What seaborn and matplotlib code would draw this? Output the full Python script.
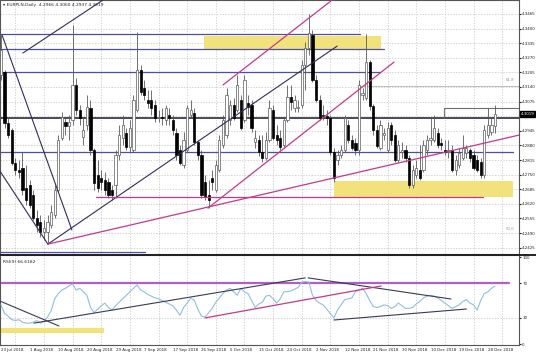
import numpy as np
import pandas as pd
import matplotlib
matplotlib.use("Agg")
import matplotlib.pyplot as plt
import matplotlib.transforms as mtransforms
from matplotlib.lines import Line2D
import seaborn as sns

# EURPLN daily candles (bar index 0 = 23 Jul 2018)
opens = [4.3193, 4.3207, 4.2980, 4.2949, 4.2802, 4.2771, 4.2779, 4.2691, 4.2704, 4.2659,
         4.2557, 4.2539, 4.2495, 4.2495, 4.2526, 4.2570, 4.2682, 4.2913, 4.2984, 4.2966,
         4.2993, 4.3149, 4.3038, 4.2917, 4.2971, 4.3046, 4.2860, 4.2748, 4.2735, 4.2726,
         4.2717, 4.2682, 4.2704, 4.2837, 4.2913, 4.2935, 4.2873, 4.2860, 4.3038, 4.3216,
         4.3135, 4.3082, 4.3082, 4.3060, 4.3002, 4.3006, 4.2993, 4.3015, 4.2993, 4.2935,
         4.2860, 4.2793, 4.2860, 4.3015, 4.3024, 4.2895, 4.2837, 4.2717, 4.2659, 4.2735,
         4.2682, 4.2771, 4.2882, 4.2926, 4.2993, 4.3060, 4.3038, 4.3082, 4.2993, 4.3069,
         4.3060, 4.2895, 4.2904, 4.2851, 4.2824, 4.2904, 4.3038, 4.2926, 4.2913, 4.2882,
         4.2993, 4.3095, 4.3046, 4.3046, 4.3060, 4.3238, 4.3313, 4.3371, 4.3171, 4.3082,
         4.3015, 4.3011, 4.3002, 4.2851, 4.2815, 4.2837, 4.2860, 4.2971, 4.2904, 4.2891,
         4.2860, 4.3104, 4.3091, 4.3251, 4.3055, 4.2949, 4.2869, 4.2926, 4.2860, 4.2971,
         4.2926, 4.2815, 4.2851, 4.2860, 4.2824, 4.2704, 4.2748, 4.2771, 4.2771, 4.2860,
         4.2904, 4.2904, 4.2935, 4.2891, 4.2860, 4.2851, 4.2860, 4.2771, 4.2793, 4.2824,
         4.2846, 4.2860, 4.2837, 4.2815, 4.2806, 4.2748, 4.2926, 4.2940, 4.2966]
highs = [4.3371, 4.3216, 4.3002, 4.2957, 4.2824, 4.2815, 4.2851, 4.2793, 4.2726, 4.2682,
         4.2593, 4.2570, 4.2548, 4.2570, 4.2615, 4.2704, 4.2926, 4.3029, 4.3002, 4.3015,
         4.3416, 4.3180, 4.3060, 4.3002, 4.3104, 4.3082, 4.2869, 4.2815, 4.2771, 4.2762,
         4.2735, 4.2704, 4.2860, 4.2971, 4.3015, 4.2957, 4.2993, 4.3104, 4.3385, 4.3238,
         4.3171, 4.3127, 4.3127, 4.3082, 4.3038, 4.3046, 4.3060, 4.3046, 4.3015, 4.2957,
         4.2882, 4.2940, 4.3060, 4.3082, 4.3046, 4.2904, 4.2860, 4.2748, 4.2726, 4.2771,
         4.2815, 4.2926, 4.3015, 4.3135, 4.3082, 4.3091, 4.3193, 4.3104, 4.3193, 4.3104,
         4.3082, 4.2949, 4.2926, 4.2926, 4.2940, 4.3082, 4.3060, 4.2971, 4.2949, 4.3002,
         4.3149, 4.3149, 4.3104, 4.3082, 4.3260, 4.3340, 4.3465, 4.3394, 4.3193, 4.3104,
         4.3060, 4.3038, 4.3015, 4.2869, 4.2860, 4.2882, 4.3015, 4.2993, 4.2926, 4.2913,
         4.3171, 4.3135, 4.3376, 4.3260, 4.3064, 4.2971, 4.2993, 4.2957, 4.2984, 4.2984,
         4.2949, 4.2904, 4.2895, 4.2882, 4.2837, 4.2793, 4.2815, 4.2882, 4.2904, 4.2926,
         4.3002, 4.3015, 4.2957, 4.2913, 4.2904, 4.2904, 4.2882, 4.2837, 4.2869, 4.2926,
         4.2882, 4.2869, 4.2860, 4.2837, 4.2824, 4.2971, 4.3046, 4.3002, 4.3060]
lows = [4.3171, 4.2957, 4.2913, 4.2793, 4.2748, 4.2735, 4.2659, 4.2615, 4.2601, 4.2548,
        4.2495, 4.2472, 4.2459, 4.2446, 4.2512, 4.2557, 4.2673, 4.2904, 4.2926, 4.2904,
        4.2971, 4.3015, 4.2971, 4.2882, 4.2949, 4.2837, 4.2682, 4.2673, 4.2682, 4.2659,
        4.2646, 4.2637, 4.2646, 4.2815, 4.2882, 4.2860, 4.2851, 4.2851, 4.3029, 4.3104,
        4.3082, 4.3046, 4.3015, 4.2984, 4.2984, 4.2971, 4.2971, 4.2971, 4.2926, 4.2815,
        4.2793, 4.2779, 4.2851, 4.3002, 4.2882, 4.2815, 4.2646, 4.2637, 4.2601, 4.2682,
        4.2673, 4.2762, 4.2869, 4.2913, 4.2971, 4.2993, 4.3029, 4.2949, 4.2984, 4.3015,
        4.2940, 4.2869, 4.2833, 4.2806, 4.2815, 4.2895, 4.2904, 4.2882, 4.2860, 4.2869,
        4.2984, 4.3038, 4.3029, 4.3029, 4.3046, 4.3127, 4.3282, 4.3162, 4.3073, 4.2993,
        4.2993, 4.2971, 4.2837, 4.2717, 4.2793, 4.2824, 4.2851, 4.2891, 4.2860, 4.2837,
        4.2837, 4.3082, 4.3082, 4.3038, 4.2926, 4.2869, 4.2860, 4.2904, 4.2851, 4.2882,
        4.2806, 4.2806, 4.2824, 4.2806, 4.2691, 4.2691, 4.2735, 4.2726, 4.2762, 4.2837,
        4.2882, 4.2895, 4.2869, 4.2860, 4.2837, 4.2824, 4.2762, 4.2748, 4.2779, 4.2815,
        4.2824, 4.2806, 4.2771, 4.2762, 4.2735, 4.2735, 4.2913, 4.2926, 4.2937]
closes = [4.3305, 4.2980, 4.2926, 4.2802, 4.2771, 4.2762, 4.2682, 4.2637, 4.2615, 4.2557,
          4.2526, 4.2495, 4.2512, 4.2539, 4.2584, 4.2682, 4.2904, 4.3006, 4.2966, 4.2984,
          4.3149, 4.3038, 4.3002, 4.2949, 4.3051, 4.2860, 4.2713, 4.2691, 4.2717, 4.2682,
          4.2659, 4.2659, 4.2837, 4.2926, 4.2971, 4.2873, 4.2957, 4.3082, 4.3216, 4.3118,
          4.3104, 4.3069, 4.3046, 4.3002, 4.3006, 4.3002, 4.3046, 4.3002, 4.2949, 4.2837,
          4.2802, 4.2904, 4.3046, 4.3038, 4.2895, 4.2837, 4.2659, 4.2650, 4.2637, 4.2717,
          4.2793, 4.2904, 4.2993, 4.3104, 4.3060, 4.3002, 4.3149, 4.2957, 4.3171, 4.3051,
          4.2957, 4.2913, 4.2851, 4.2824, 4.2904, 4.3046, 4.2913, 4.2904, 4.2873, 4.2993,
          4.3095, 4.3073, 4.3082, 4.3051, 4.3238, 4.3313, 4.3380, 4.3171, 4.3082, 4.3002,
          4.3011, 4.3002, 4.2851, 4.2735, 4.2837, 4.2860, 4.3002, 4.2904, 4.2869, 4.2860,
          4.3149, 4.3113, 4.3251, 4.3055, 4.2949, 4.2877, 4.2971, 4.2935, 4.2957, 4.2904,
          4.2815, 4.2882, 4.2860, 4.2824, 4.2704, 4.2771, 4.2779, 4.2735, 4.2882, 4.2904,
          4.2913, 4.2957, 4.2882, 4.2882, 4.2851, 4.2860, 4.2771, 4.2815, 4.2846, 4.2869,
          4.2869, 4.2824, 4.2779, 4.2771, 4.2748, 4.2949, 4.2971, 4.2971, 4.3019]

# RSI(9), one value per bar
rsi = [45, 35, 32, 28, 27, 28, 25, 24, 24, 25,
       27, 24, 26, 31, 38, 52, 58, 62, 64, 67,
       69, 62, 64, 60, 56, 42, 36, 40, 44, 47,
       42, 39, 44, 48, 52, 56, 60, 64, 68, 62,
       60, 57, 55, 53, 52, 50, 48, 46, 44, 39,
       33, 42, 47, 53, 50, 40, 32, 31, 36, 41,
       48, 53, 58, 62, 64, 60, 56, 64, 60, 58,
       50, 42, 46, 48, 55, 56, 52, 47, 52, 60,
       60, 61, 63, 65, 71, 72, 71, 56, 50, 47,
       45, 40, 35, 30, 39, 45, 51, 52, 53, 60,
       62, 64, 58, 50, 43, 42, 43, 45, 44, 41,
       43, 47, 44, 41, 41, 42, 46, 49, 53, 55,
       56, 55, 53, 50, 47, 44, 41, 43, 45, 49,
       51, 47, 45, 39, 50, 58, 60, 64, 66.6182]

date_labels = ["23 Jul 2018", "1 Aug 2018", "10 Aug 2018", "20 Aug 2018", "29 Aug 2018",
               "7 Sep 2018", "17 Sep 2018", "26 Sep 2018", "5 Oct 2018", "15 Oct 2018",
               "24 Oct 2018", "2 Nov 2018", "12 Nov 2018", "21 Nov 2018", "30 Nov 2018",
               "10 Dec 2018", "19 Dec 2018", "28 Dec 2018"]
price_ticks = [4.2425, 4.2490, 4.2555, 4.2620, 4.2685, 4.2750, 4.2815, 4.2880, 4.2945,
               4.3010, 4.3075, 4.3140, 4.3205, 4.3270, 4.3335, 4.3400, 4.3465]
rsi_ticks = [0, 30, 70, 100]

# drawn objects: (bar, price) endpoints
pink_lines = [[(13.1, 4.2441), (144.7, 4.2926)],
              [(57.8, 4.2601), (109.8, 4.3251)],
              [(62.0, 4.3149), (92.5, 4.3527)],
              [(26.5, 4.2650), (134.6, 4.2650)]]
blue_levels = [[(-0.3, 4.3376), (100.3, 4.3376)],
               [(-0.3, 4.3309), (107.0, 4.3309)],
               [(-0.3, 4.3207), (106.0, 4.3207)],
               [(-0.3, 4.2851), (143.0, 4.2851)],
               [(-0.3, 4.2406), (40.2, 4.2406)]]
dark_lines = [[(6.1, 4.3291), (28.5, 4.3527)],
              [(0.3, 4.3371), (19.8, 4.2504)],
              [(-0.3, 4.2766), (13.1, 4.2441)],
              [(13.1, 4.2441), (93.9, 4.3322)]]
level_300 = [(-0.3, 4.3002), (144.7, 4.3002)]
resist_box = [(123.7, 4.3002), (123.7, 4.3046), (144.7, 4.3046)]
yellow_main = [(56.8, 106.2, 4.3309, 4.3367), (93.0, 143.0, 4.2650, 4.2722)]
yellow_rsi = [(-0.3, 28.8, 12.6, 18.4)]
rsi_lines = [[(-0.3, 49.4), (16.2, 20.7)],
             [(9.2, 24.0), (85.0, 76.0)],
             [(85.8, 76.0), (125.7, 51.7)],
             [(93.0, 27.6), (130.0, 40.2)]]
rsi_pink = [(57.0, 30.0), (106.2, 66.7)]

df = pd.DataFrame({"open": opens, "high": highs, "low": lows, "close": closes, "rsi": rsi})
df["bar"] = np.arange(len(df))

sns.set_style("white")
plt.rcParams["font.family"] = ["DejaVu Sans"]

fig = plt.figure(figsize=(5.36, 3.57), dpi=100)
ax = fig.add_axes([0, 0.2885, 0.9683, 0.7115])
rx = fig.add_axes([0, 0.0336, 0.9683, 0.2521], sharex=ax)

xmin, xmax = -0.28, 144.7
grid_kw = dict(color="#c4c4c4", lw=0.5, ls=(0, (2, 2)), zorder=0)
tick_fs = 2.9

# main panel grid
for p in price_ticks:
    ax.axhline(p, **grid_kw)
for gx in range(4, 145, 8):
    ax.axvline(gx, **grid_kw)
    rx.axvline(gx, **grid_kw)
rx.axhline(30, **grid_kw)

# yellow zones
for x0, x1, y0, y1 in yellow_main:
    ax.fill_between([x0, x1], y0, y1, color="#f2e27c", lw=0, zorder=1)
for x0, x1, y0, y1 in yellow_rsi:
    rx.fill_between([x0, x1], y0, y1, color="#f2e27c", lw=0, zorder=1)

# candles
bull = df[df.close >= df.open]
bear = df[df.close < df.open]
ax.vlines(df.bar, df.low, df.high, color="#5a5a5a", lw=0.6, zorder=3)
ax.bar(bull.bar, bull.close - bull.open, bottom=bull.open, width=0.62,
       color="white", edgecolor="#5a5a5a", linewidth=0.5, zorder=4)
ax.bar(bear.bar, bear.open - bear.close, bottom=bear.close, width=0.62,
       color="black", edgecolor="black", linewidth=0.5, zorder=4)

# drawn levels and trend lines
for seg in blue_levels:
    ax.plot(*zip(*seg), color="#4f4f9c", lw=0.9, zorder=2)
ax.plot(*zip(*level_300), color="#3a3a4a", lw=1.3, zorder=2)
ax.plot(*zip(*resist_box), color="#707070", lw=0.8, zorder=2)
for seg in dark_lines:
    ax.plot(*zip(*seg), color="#2e2e5a", lw=0.8, zorder=5)
for seg in pink_lines:
    ax.plot(*zip(*seg), color="#c23a8c", lw=0.9, zorder=5)

# fibo labels
ax.plot([100, xmax], [4.3144, 4.3144], color="#bdbdbd", lw=0.7, zorder=1)
ax.text(143.5, 4.3160, "61.8", fontsize=2.8, color="#909090", ha="right", va="bottom")
ax.text(143.5, 4.2500, "50.0", fontsize=2.8, color="#909090", ha="right", va="bottom")

ax.set_xlim(xmin, xmax)
ax.set_ylim(4.2397, 4.3527)
ax.yaxis.tick_right()
ax.set_yticks(price_ticks)
ax.set_yticklabels([f"{p:.4f}" for p in price_ticks])
ax.tick_params(axis="y", labelsize=tick_fs, length=1.5, pad=0.8, colors="#222222")
ax.tick_params(axis="x", bottom=False, labelbottom=False)
for s in ax.spines.values():
    s.set_color("#555555")
    s.set_linewidth(0.8)

ax.text(0.006, 0.988, "\u25be EURPLN,Daily  4.2966 4.3060 4.2937 4.3019",
        transform=ax.transAxes, fontsize=3.2, va="top", ha="left", color="#222222")

trans = mtransforms.blended_transform_factory(ax.transAxes, ax.transData)
ax.text(1.003, closes[-1], f"{closes[-1]:.4f}", transform=trans, fontsize=tick_fs,
        color="white", va="center", ha="left", zorder=10,
        bbox=dict(boxstyle="square,pad=0.2", fc="black", ec="black"))

# RSI panel
rx.axhline(70, xmin=0, xmax=(142 - xmin) / (xmax - xmin), color="#b35ec4", lw=1.6, zorder=2)
sns.lineplot(data=df, x="bar", y="rsi", ax=rx, color="#8fc0dc", lw=0.8, zorder=3)
for seg in rsi_lines:
    rx.plot(*zip(*seg), color="#3a3a55", lw=0.8, zorder=4)
rx.plot(*zip(*rsi_pink), color="#c23a8c", lw=0.9, zorder=4)

rx.text(0.006, 0.95, "RSI(9) 66.6182", transform=rx.transAxes, fontsize=3.2,
        va="top", ha="left", color="#222222")
rx.set_ylim(-1.15, 102.3)
rx.set_xlim(xmin, xmax)
rx.yaxis.tick_right()
rx.set_yticks(rsi_ticks)
rx.set_yticklabels([str(t) for t in rsi_ticks])
rx.set_xticks(np.arange(0, 8 * len(date_labels), 8))
rx.set_xticklabels(date_labels, ha="left")
rx.tick_params(axis="both", labelsize=tick_fs, length=1.5, pad=0.8, colors="#222222")
rx.set_xlabel("")
rx.set_ylabel("")
for s in rx.spines.values():
    s.set_color("#555555")
    s.set_linewidth(0.8)

fig.add_artist(Line2D([0, 1], [1 - 254.5 / 357] * 2, transform=fig.transFigure,
                      color="#222222", lw=1.4))

fig.savefig("out.png", dpi=100)
